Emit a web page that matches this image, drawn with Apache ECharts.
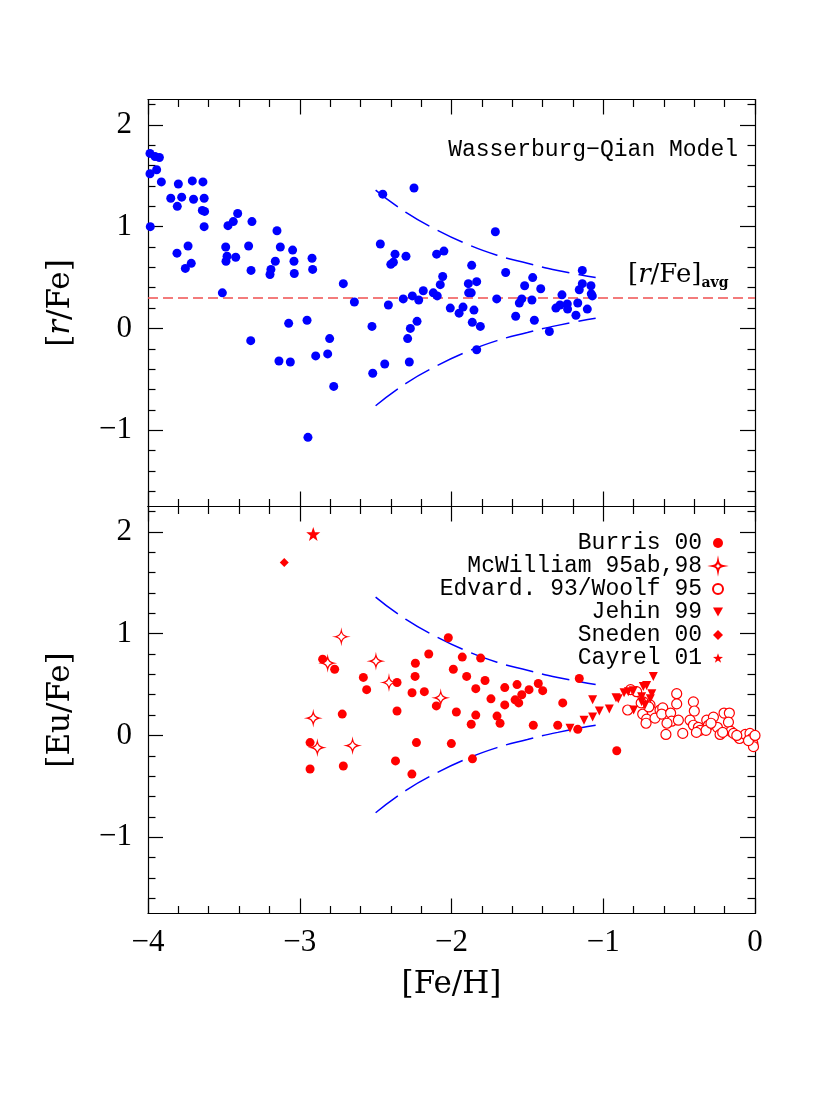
<!DOCTYPE html>
<html>
<head>
<meta charset="utf-8">
<script src="https://cdn.jsdelivr.net/npm/echarts@6/dist/echarts.min.js"></script>
<style>
  html, body { margin: 0; padding: 0; background: #fff; }
  #main { width: 830px; height: 1111px; }
</style>
</head>
<body>
<div id="main"></div>
<script>
// tick values
const xTicks = [-4, -3, -2, -1, 0];
const yMajor = [-1, 0, 1, 2];
const yMinor = [-1.6, -1.4, -1.2, -0.8, -0.6, -0.4, -0.2, 0.2, 0.4, 0.6, 0.8, 1.2, 1.4, 1.6, 1.8, 2.2];

// top panel: [r/Fe] vs [Fe/H]
const rFe = [
  [-3.987,1.72],[-3.954,1.69],[-3.925,1.68],[-3.987,1.52],[-3.943,1.56],[-3.912,1.44],[-3.80,1.42],
  [-3.708,1.45],[-3.638,1.44],[-3.85,1.28],[-3.778,1.29],[-3.70,1.27],[-3.63,1.28],[-3.807,1.20],
  [-3.642,1.16],[-3.627,1.15],[-3.985,1.00],[-3.63,1.00],[-3.809,0.74],[-3.736,0.81],[-3.754,0.59],
  [-3.715,0.64],[-3.51,0.35],[-3.473,1.01],[-3.438,1.05],[-3.409,1.13],[-3.315,1.05],[-3.488,0.80],
  [-3.479,0.71],[-3.486,0.66],[-3.422,0.70],[-3.337,0.81],[-3.321,0.57],[-3.15,0.96],[-3.128,0.80],
  [-3.161,0.66],[-3.19,0.58],[-3.196,0.53],[-3.047,0.77],[-3.038,0.66],[-3.036,0.54],[-2.919,0.69],
  [-2.915,0.58],[-2.713,0.44],
  [-3.323,-0.12],[-3.137,-0.32],[-3.062,-0.33],[-3.073,0.05],[-2.952,0.08],[-2.895,-0.27],
  [-2.816,-0.25],[-2.803,-0.10],[-2.776,-0.57],[-2.946,-1.07],
  [-2.64,0.26],[-2.453,1.32],[-2.247,1.38],[-2.469,0.83],[-2.372,0.73],[-2.40,0.63],[-2.383,0.65],
  [-2.30,0.71],[-2.098,0.73],[-2.05,0.76],[-1.711,0.95],[-1.867,0.62],[-1.643,0.55],[-2.058,0.51],
  [-2.074,0.43],[-1.889,0.44],[-1.834,0.46],[-1.887,0.35],[-1.87,0.35],[-2.186,0.37],[-2.12,0.35],
  [-2.094,0.32],[-2.258,0.32],[-2.216,0.28],[-2.318,0.29],[-2.416,0.23],[-1.702,0.29],[-2.008,0.20],
  [-1.95,0.15],[-1.924,0.21],[-1.852,0.18],[-1.863,0.06],[-1.81,0.02],
  [-2.524,0.02],[-2.271,0.00],[-2.227,0.07],[-2.289,-0.10],[-2.519,-0.44],[-2.44,-0.35],
  [-2.278,-0.33],[-1.834,-0.21],
  [-1.518,0.42],[-1.465,0.50],[-1.412,0.39],[-1.537,0.29],[-1.553,0.25],[-1.47,0.28],[-1.577,0.12],
  [-1.454,0.08],[-1.355,-0.03],[-1.272,0.33],[-1.312,0.20],[-1.285,0.23],[-1.237,0.24],[-1.235,0.19],
  [-1.18,0.13],[-1.168,0.25],[-1.105,0.19],[-1.138,0.57],[-1.158,0.38],[-1.138,0.44],[-1.081,0.42],
  [-1.079,0.34],[-1.072,0.32]
];
const avgLine = [[-4, 0.3], [0, 0.3]];

// model envelope
const modelUpper = [[-2.5,1.36],[-2.3,1.14],[-2.1,0.97],[-1.9,0.83],[-1.7,0.72],[-1.5,0.64],[-1.3,0.57],[-1.05,0.50]];
const modelLower = [[-2.5,-0.76],[-2.3,-0.54],[-2.1,-0.37],[-1.9,-0.23],[-1.7,-0.12],[-1.5,-0.04],[-1.3,0.03],[-1.05,0.10]];

// bottom panel: [Eu/Fe] vs [Fe/H]
const burris = [
  [-2.849,0.75],[-2.77,0.65],[-2.72,0.21],[-2.932,-0.07],[-2.932,-0.33],[-2.713,-0.30],[-2.369,-0.25],
  [-2.261,-0.38],[-2.231,-0.07],[-2.001,-0.08],[-1.862,-0.23],[-0.911,-0.15],
  [-2.021,0.96],[-2.15,0.80],[-2.238,0.71],[-1.929,0.77],[-1.808,0.76],[-1.988,0.65],[-2.24,0.58],
  [-1.9,0.58],[-1.779,0.54],[-2.581,0.57],[-2.559,0.45],[-2.359,0.52],[-2.26,0.42],[-2.179,0.43],
  [-2.1,0.29],[-1.84,0.46],[-1.74,0.36],[-1.649,0.47],[-1.568,0.50],[-1.537,0.40],[-1.581,0.35],
  [-1.557,0.32],[-1.649,0.30],[-1.489,0.45],[-1.428,0.51],[-1.399,0.44],[-1.267,0.32],[-1.158,0.56],
  [-2.359,0.24],[-1.968,0.23],[-1.84,0.20],[-1.7,0.19],[-1.68,0.12],[-1.87,0.11],[-1.461,0.10],
  [-1.3,0.10],[-1.168,0.06]
];
const mcwilliam = [[-2.726,0.97],[-2.816,0.71],[-2.911,0.17],[-2.884,-0.12],[-2.652,-0.10],[-2.498,0.73],[-2.412,0.52],[-2.071,0.37]];
const edvardsson = [
  [-0.82,0.45],[-0.78,0.43],[-0.839,0.25],[-0.736,0.33],[-0.692,0.30],[-0.74,0.21],[-0.714,0.16],
  [-0.718,0.12],[-0.659,0.17],[-0.626,0.25],[-0.608,0.27],[-0.615,0.21],[-0.587,0.01],[-0.556,0.22],
  [-0.549,0.14],[-0.516,0.41],[-0.516,0.31],[-0.505,0.15],[-0.476,0.02],[-0.406,0.33],[-0.40,0.24],
  [-0.428,0.15],[-0.406,0.10],[-0.373,0.08],[-0.362,0.05],[-0.318,0.15],[-0.307,0.10],[-0.323,0.05],
  [-0.274,0.18],[-0.248,0.08],[-0.23,0.01],[-0.204,0.22],[-0.169,0.22],[-0.175,0.13],[-0.159,0.04],
  [-0.213,0.03],[-0.142,0.02],[-0.102,-0.03],[-0.064,0.01],[-0.033,0.02],[-0.02,-0.03],[-0.014,-0.08],
  [-0.01,-0.11],[-0.043,-0.05],[-0.386,0.03],[-0.75,0.32],[-0.70,0.28],[-0.58,0.12],[-0.29,0.12],
  [-0.12,0.00],[0.0,0.0]
];
const jehin = [
  [-1.219,0.07],[-1.127,0.15],[-1.07,0.18],[-1.026,0.24],[-0.96,0.26],[-1.07,0.35],[-0.916,0.37],
  [-0.901,0.36],[-0.863,0.42],[-0.835,0.43],[-0.802,0.44],[-0.736,0.48],[-0.714,0.49],[-0.67,0.58],
  [-0.68,0.41],[-0.747,0.38],[-0.69,0.36],[-0.80,0.25],[-0.747,0.33],[-0.725,0.30]
];
const sneden = [[-3.102,1.70]];
const cayrel = [[-2.911,1.98]];

const serif = 'Liberation Serif';
const nameFont = 'DejaVu Serif';
const monoFont = 'Liberation Mono';
const RED = '#ff0000';
const BLUE = '#0000ff';
const STAR4 = 'path://M0,-10 Q1.5,-1.5 10,0 Q1.5,1.5 0,10 Q-1.5,1.5 -10,0 Q-1.5,-1.5 0,-10 Z';
const STAR5 = 'path://M0,-10 L2.35,-3.24 L9.51,-3.09 L3.8,1.24 L5.88,8.09 L0,4 L-5.88,8.09 L-3.8,1.24 L-9.51,-3.09 L-2.35,-3.24 Z';
const TRI_DOWN = 'path://M-5,-4 L5,-4 L0,5 Z';

const minus = v => (v < 0 ? '\u2212' + Math.abs(v) : String(v));
const axisLine = { show: true, onZero: false, lineStyle: { color: '#000', width: 1.2 } };

function xAxisFor(gridIndex, position, withLabel) {
  return {
    type: 'value', gridIndex: gridIndex, position: position,
    min: -4, max: 0, interval: 1,
    axisLine: axisLine,
    axisTick: { show: true, inside: true, length: 15, lineStyle: { color: '#000', width: 1.2 } },
    minorTick: { show: true, splitNumber: 5, length: 7.5, lineStyle: { color: '#000', width: 1.2 } },
    splitLine: { show: false },
    minorSplitLine: { show: false },
    axisLabel: {
      show: withLabel, margin: 14, formatter: minus,
      fontFamily: serif, fontSize: 31, color: '#000'
    },
    name: withLabel ? '[Fe/H]' : '',
    nameLocation: 'middle', nameGap: 56,
    nameTextStyle: { fontFamily: nameFont, fontSize: 31, color: '#000' }
  };
}

function yAxisFor(gridIndex, position, major, name) {
  return {
    type: 'value', gridIndex: gridIndex, position: position,
    min: -1.75, max: 2.25,
    axisLine: major ? axisLine : { show: false, onZero: false },
    axisTick: {
      show: true, inside: true, length: major ? 15 : 7.5,
      customValues: major ? yMajor : yMinor,
      lineStyle: { color: '#000', width: 1.2 }
    },
    splitLine: { show: false },
    axisLabel: {
      show: major && position === 'left', customValues: yMajor, margin: 16,
      formatter: minus, fontFamily: serif, fontSize: 31, color: '#000'
    },
    name: name || '',
    nameLocation: 'middle', nameGap: 72, nameRotate: 90,
    nameTextStyle: {
      fontFamily: nameFont, fontSize: 31, color: '#000',
      rich: { i: { fontFamily: nameFont, fontSize: 31, fontStyle: 'italic', color: '#000' } }
    }
  };
}

function modelLines(xi, yi) {
  return [modelUpper, modelLower].map(d => ({
    type: 'line', xAxisIndex: xi, yAxisIndex: yi, data: d, smooth: true,
    showSymbol: false, silent: true, z: 1,
    lineStyle: { color: BLUE, width: 1.5, type: [28, 9] }
  }));
}

function scatter(name, data, symbol, size, filled) {
  return {
    name: name, type: 'scatter', xAxisIndex: 2, yAxisIndex: 4, data: data,
    symbol: symbol, symbolSize: size, z: 3,
    itemStyle: filled
      ? { color: RED, opacity: 1 }
      : { color: '#fff', borderColor: RED, borderWidth: 1.2, opacity: 1 }
  };
}

const chart = echarts.init(document.getElementById('main'), null, { renderer: 'canvas' });

chart.setOption({
  animation: false,
  backgroundColor: '#fff',
  grid: [
    { left: 148, top: 99.5, width: 607, height: 407, outerBoundsMode: 'none' },
    { left: 148, top: 506.5, width: 607, height: 407, outerBoundsMode: 'none' }
  ],
  xAxis: [
    xAxisFor(0, 'bottom', false), xAxisFor(0, 'top', false),
    xAxisFor(1, 'bottom', true), xAxisFor(1, 'top', false)
  ],
  yAxis: [
    yAxisFor(0, 'left', true, '[{i|r}/Fe]'), yAxisFor(0, 'left', false),
    yAxisFor(0, 'right', true), yAxisFor(0, 'right', false),
    yAxisFor(1, 'left', true, '[Eu/Fe]'), yAxisFor(1, 'left', false),
    yAxisFor(1, 'right', true), yAxisFor(1, 'right', false)
  ],
  legend: {
    data: [
      'Burris 00', 'McWilliam 95ab,98', 'Edvard. 93/Woolf 95',
      { name: 'Jehin 99', icon: TRI_DOWN }, 'Sneden 00', 'Cayrel 01'
    ],
    orient: 'vertical', align: 'right', right: 101, top: 526.5,
    itemWidth: 10, itemHeight: 10, itemGap: 0, selectedMode: false,
    textStyle: { fontFamily: monoFont, fontSize: 23, lineHeight: 20.3, color: '#000', padding: [0, 6, 0, 0] }
  },
  graphic: [
    {
      type: 'text', silent: true,
      style: { text: 'Wasserburg\u2212Qian Model', x: 738, y: 150, align: 'right', verticalAlign: 'middle',
        font: '23px "Liberation Mono"', fill: '#000' }
    },
    {
      type: 'text', silent: true,
      style: {
        text: '{a|[}{i|r}{a|/Fe]}{s|avg}', x: 628, y: 275, align: 'left', verticalAlign: 'middle',
        rich: {
          a: { fontFamily: nameFont, fontSize: 26, lineHeight: 30, color: RED },
          i: { fontFamily: nameFont, fontSize: 26, fontStyle: 'italic', lineHeight: 30, color: RED },
          s: { fontFamily: nameFont, fontSize: 14, fontWeight: 'bold', lineHeight: 14, verticalAlign: 'bottom', color: RED }
        }
      }
    }
  ],
  series: [
    {
      type: 'line', xAxisIndex: 0, yAxisIndex: 0, data: avgLine, showSymbol: false, silent: true, z: 1,
      lineStyle: { color: '#f05050', width: 1.5, type: [10, 5] }
    },
    ...modelLines(0, 0),
    {
      type: 'scatter', xAxisIndex: 0, yAxisIndex: 0, data: rFe, symbol: 'circle', symbolSize: 9, z: 3,
      itemStyle: { color: BLUE, opacity: 1 }
    },
    ...modelLines(2, 4),
    scatter('Burris 00', burris, 'circle', 9, true),
    scatter('McWilliam 95ab,98', mcwilliam, STAR4, 12, false),
    scatter('Edvard. 93/Woolf 95', edvardsson, 'circle', 10, false),
    scatter('Jehin 99', jehin, TRI_DOWN, 9, true),
    scatter('Sneden 00', sneden, 'diamond', 9, true),
    scatter('Cayrel 01', cayrel, STAR5, 14, true)
  ]
});
</script>
</body>
</html>
